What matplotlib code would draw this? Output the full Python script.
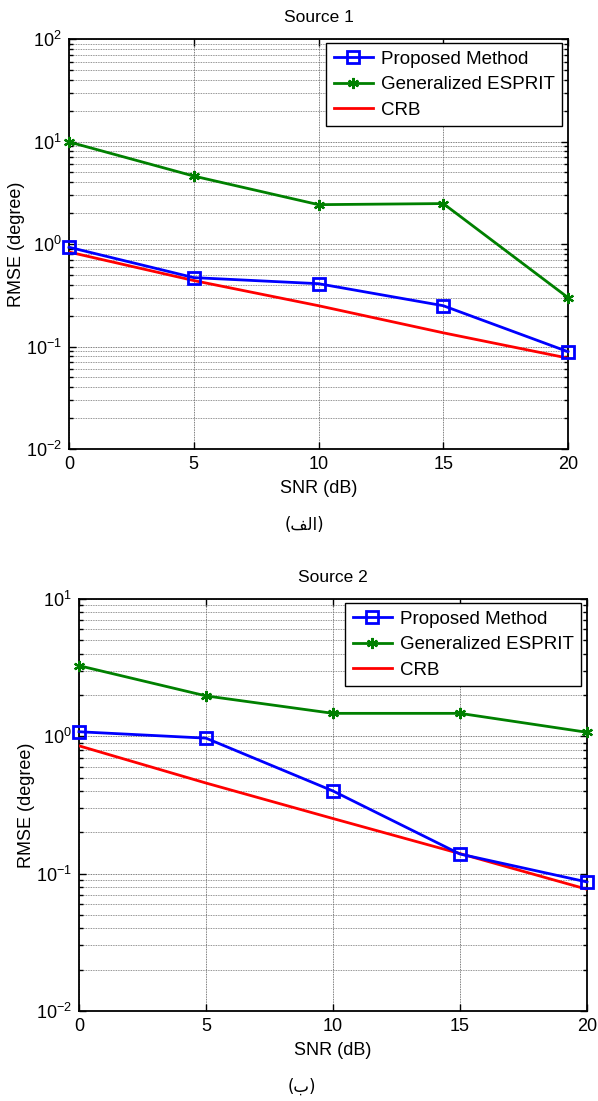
import matplotlib
matplotlib.use("Agg")
import matplotlib.pyplot as plt
from matplotlib.ticker import LogLocator, NullFormatter, FixedLocator

plt.rcParams['font.family'] = ['Liberation Sans', 'DejaVu Sans']
plt.rcParams['axes.unicode_minus'] = False

snr = [0, 5, 10, 15, 20]
xticks = [0, 5, 10, 15, 20]

# Source 1
prop1 = [0.93, 0.47, 0.41, 0.25, 0.089]
esprit1 = [9.9, 4.6, 2.42, 2.48, 0.30]
crb1 = [0.835, 0.44, 0.25, 0.136, 0.077]

# Source 2
prop2 = [1.08, 0.97, 0.40, 0.139, 0.087]
esprit2 = [3.27, 1.97, 1.47, 1.47, 1.07]
crb2 = [0.853, 0.457, 0.252, 0.14, 0.077]

titles = ["Source 1", "Source 2"]
labels = ["Proposed Method", "Generalized ESPRIT", "CRB"]
captions = ["(\ufed2\ufedf\ufe8d)", "(\ufe8f)"]
ylims = [(1e-2, 1e2), (1e-2, 1e1)]

W, H = 598, 1101
fig = plt.figure(figsize=(W / 100, H / 100), dpi=100)

# axes boxes in pixel coords: left, right, top, bottom
boxes = [(69, 568, 39, 449), (79, 587, 599, 1011)]
caption_pos = [(304, 525), (302, 1087)]
datasets = [(prop1, esprit1, crb1), (prop2, esprit2, crb2)]

for i in range(2):
    l, r, t, b = boxes[i]
    ax = fig.add_axes([l / W, 1 - b / H, (r - l) / W, (b - t) / H])
    p, e, c = datasets[i]
    ax.plot(snr, p, '-s', color='#0000FF', lw=2, ms=8.5, mfc='none', mew=2,
            label=labels[0], zorder=5, clip_on=False)
    ax.plot(snr, e, '-', color='#008000', lw=2, marker=(6, 2, 0), ms=8, mew=1.6,
            label=labels[1], zorder=4, clip_on=False)
    ax.plot(snr, c, '-', color='#FF0000', lw=2, label=labels[2], zorder=3)
    ax.set_yscale('log')
    ax.set_xlim(0, 20)
    ax.set_ylim(*ylims[i])
    ax.xaxis.set_major_locator(FixedLocator(xticks))
    ax.yaxis.set_major_locator(LogLocator(base=10, numticks=10))
    ax.yaxis.set_minor_locator(LogLocator(base=10, subs=range(2, 10), numticks=100))
    ax.yaxis.set_minor_formatter(NullFormatter())
    ax.grid(True, which='major', color='#505050', lw=0.6, ls=(0, (1, 1)))
    ax.grid(True, which='minor', axis='y', color='#707070', lw=0.6, ls=(0, (1, 1)))
    ax.tick_params(which='both', direction='in', top=True, right=True,
                   labelsize=13, width=1)
    ax.tick_params(which='major', length=5, pad=5)
    ax.tick_params(which='minor', length=3)
    for s in ax.spines.values():
        s.set_linewidth(1.3)
    ax.set_title(titles[i], fontsize=12.5, pad=12)
    ax.set_xlabel("SNR (dB)", fontsize=13, labelpad=5)
    ax.set_ylabel("RMSE (degree)", fontsize=13, labelpad=1)
    leg = ax.legend(loc='upper right', bbox_to_anchor=(0.988, 0.99), fontsize=13.5,
                    numpoints=1, handlelength=2.1, labelspacing=0.45,
                    handletextpad=0.4, borderpad=0.4, fancybox=False,
                    framealpha=1, edgecolor='black', borderaxespad=0)
    leg.get_frame().set_linewidth(1.0)
    cx, cy = caption_pos[i]
    fig.text(cx / W, 1 - cy / H, captions[i], ha='center', va='center',
             fontsize=12, family=['DejaVu Sans'])

fig.savefig("out.png", dpi=100)
